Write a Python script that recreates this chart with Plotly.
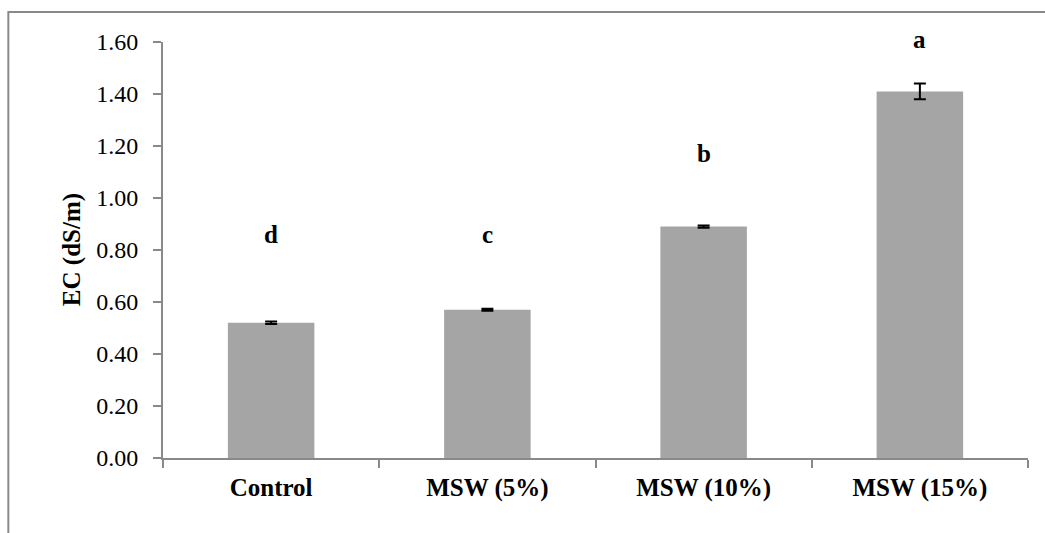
import plotly.graph_objects as go

# Soil electrical conductivity by treatment
categories = ["Control", "MSW (5%)", "MSW (10%)", "MSW (15%)"]
ec_values = [0.52, 0.57, 0.89, 1.41]
ec_errors = [0.005, 0.004, 0.004, 0.03]
sig_letters = ["d", "c", "b", "a"]
letter_heights = [0.80, 0.80, 1.11, 1.55]
y_ticks = [0.0, 0.2, 0.4, 0.6, 0.8, 1.0, 1.2, 1.4, 1.6]

FONT = "Liberation Serif, Times New Roman, serif"
AXIS_GREY = "#898989"

fig = go.Figure()
fig.add_trace(go.Bar(
    x=categories,
    y=ec_values,
    marker=dict(color="#A5A5A5", line=dict(width=0)),
    error_y=dict(type="data", array=ec_errors, visible=True,
                 color="black", thickness=2, width=6),
    showlegend=False,
))

for cat, letter, h in zip(categories, sig_letters, letter_heights):
    fig.add_annotation(x=cat, y=h, text=f"<b>{letter}</b>", showarrow=False,
                       xref="x", yref="y", yanchor="bottom",
                       font=dict(family=FONT, size=25, color="black"))

# Rotated y-axis title
fig.add_annotation(x=-0.105, y=0.5, xref="paper", yref="paper",
                   xanchor="center", yanchor="middle",
                   text="<b>EC (dS/m)</b>", textangle=-90, showarrow=False,
                   font=dict(family=FONT, size=25, color="black"))

# Outer chart frame
fig.add_shape(type="rect", xref="paper", yref="paper",
              x0=-0.1788, x1=1.2, y0=-0.3, y1=1.0721,
              line=dict(color=AXIS_GREY, width=2), layer="below")

fig.update_layout(
    width=1045, height=533,
    margin=dict(l=163, r=17, t=42, b=75),
    paper_bgcolor="white", plot_bgcolor="white",
    bargap=0.6,
    font=dict(family=FONT, color="black"),
)
fig.update_xaxes(
    type="category", showline=True, linecolor=AXIS_GREY, linewidth=2,
    ticks="outside", tickson="boundaries", ticklen=8, tickcolor=AXIS_GREY,
    tickwidth=2, showgrid=False, zeroline=False, ticklabelstandoff=6,
    tickfont=dict(family=FONT, size=25, color="black"),
    tickprefix="<b>", ticksuffix="</b>",
)
fig.update_yaxes(
    range=[0, 1.6], tickvals=y_ticks, tickformat=".2f",
    showline=True, linecolor=AXIS_GREY, linewidth=2,
    ticks="outside", ticklen=8, tickcolor=AXIS_GREY, tickwidth=2,
    showgrid=False, zeroline=False, ticklabelstandoff=10,
    tickfont=dict(family=FONT, size=24, color="black"),
)

fig.write_html("out.html")
